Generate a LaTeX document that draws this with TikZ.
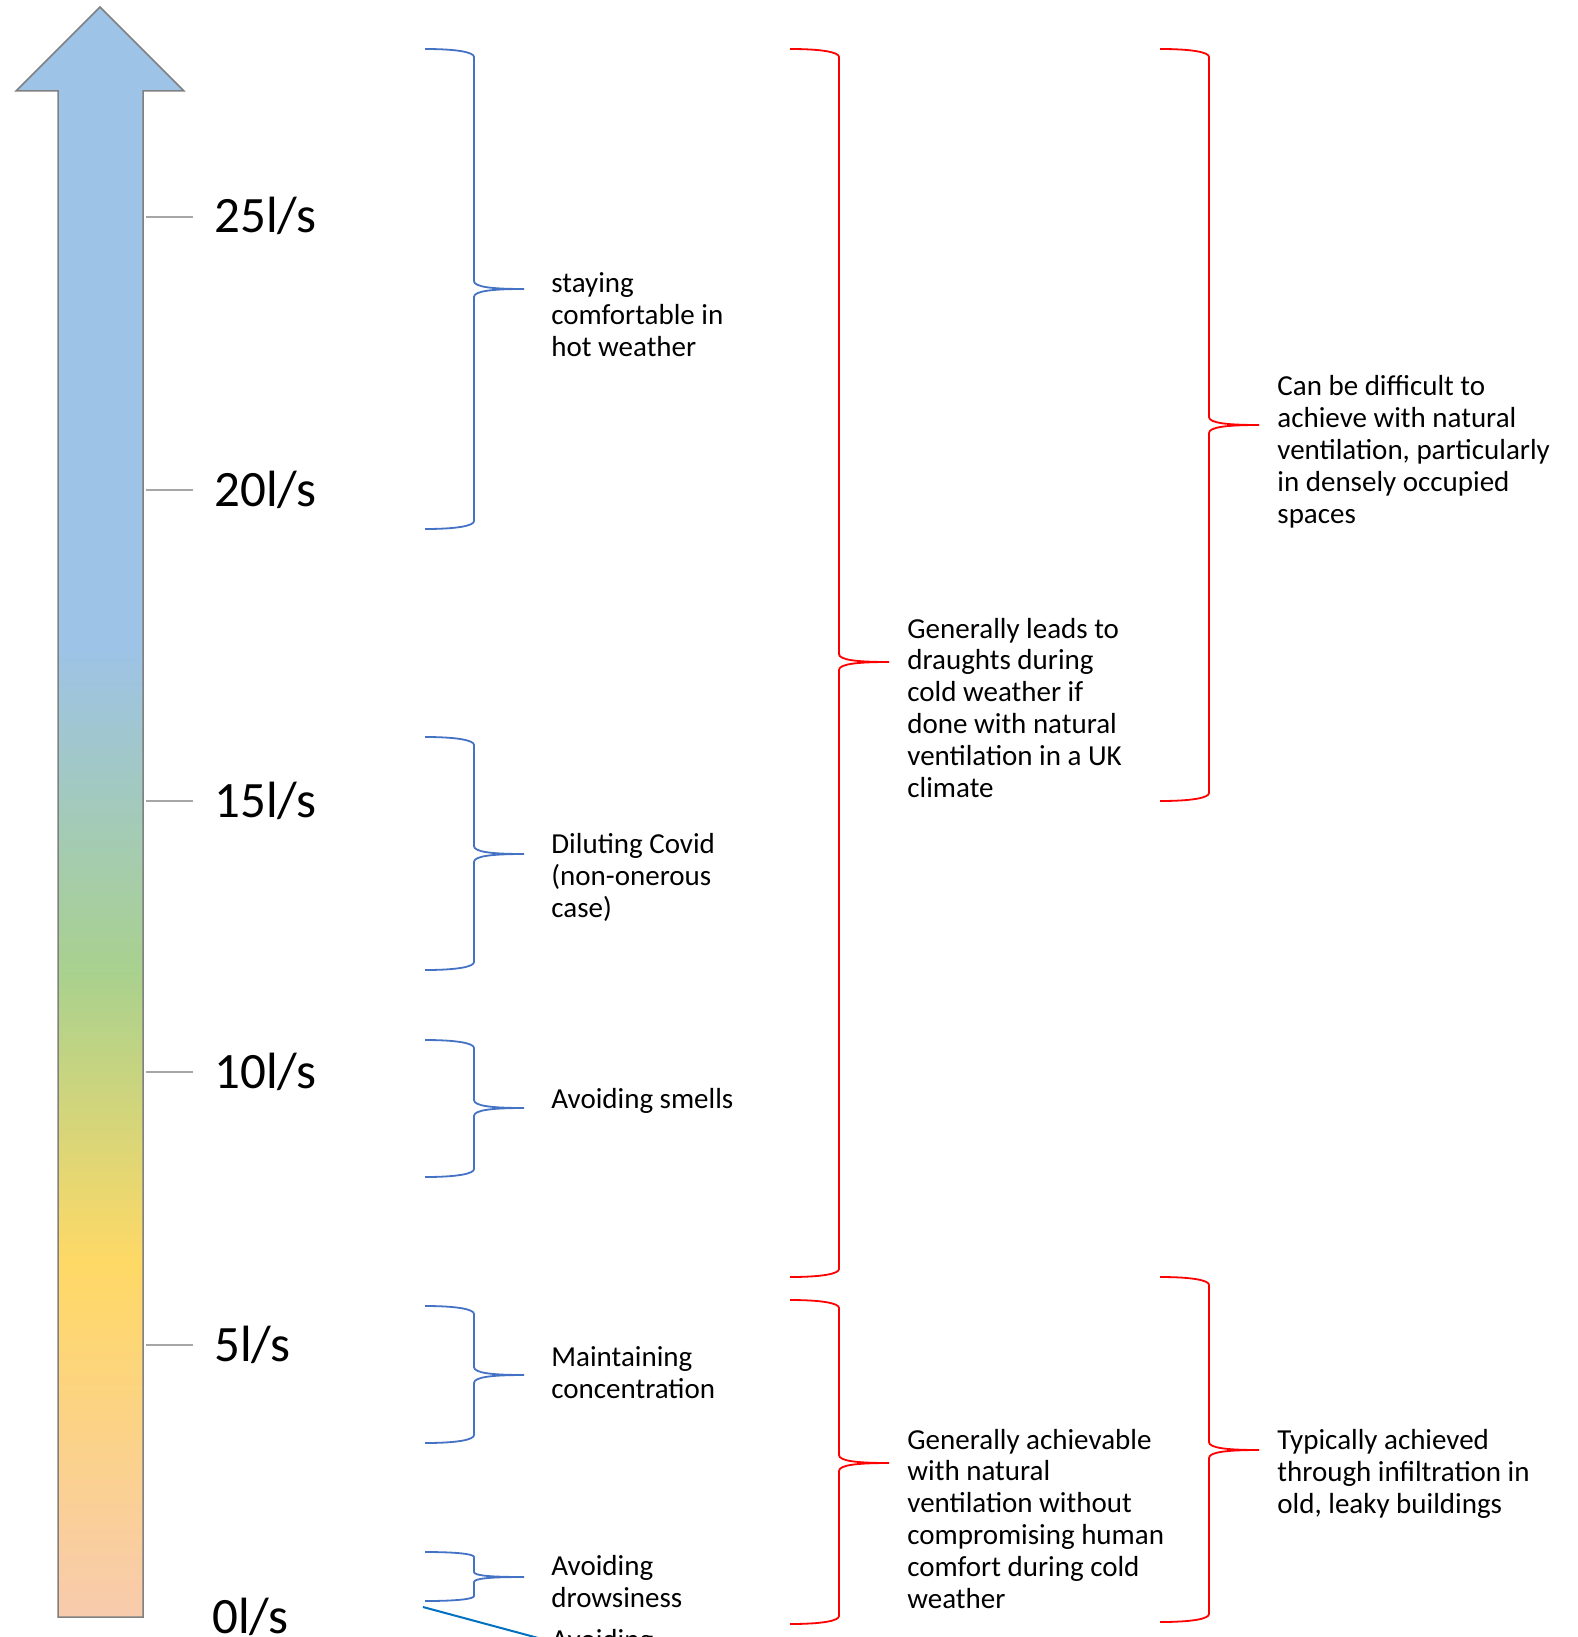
\documentclass[tikz,border=0pt]{standalone}
\usepackage{fontspec}
\setmainfont{Carlito}

\definecolor{arrowblue}{RGB}{157,195,230}
\definecolor{arrowgreen}{RGB}{169,209,142}
\definecolor{arrowyellow}{RGB}{255,217,102}
\definecolor{arrowpeach}{RGB}{248,203,173}
\definecolor{braceblue}{RGB}{68,114,196}
\definecolor{bracered}{RGB}{255,0,0}
\definecolor{lineblue}{RGB}{0,112,192}

% the path box runs from 25bp (bottom) to 75bp (top)
\pgfdeclareverticalshading{ratescale}{100bp}{color(0bp)=(arrowpeach); color(25bp)=(arrowpeach);
  color(36bp)=(arrowyellow); color(45bp)=(arrowgreen); color(55bp)=(arrowblue); color(100bp)=(arrowblue)}

\tikzset{
  rate/.style={anchor=base west,inner sep=0pt,font=\fontsize{25.5}{30}\selectfont},
  % base of a note is the base line of its last line
  note/.style={anchor=base west,inner sep=0pt,align=left,font=\fontsize{14.5}{15.9}\selectfont},
  tickmark/.style={draw=black!35,line width=0.75pt},
}

\begin{document}
\begin{tikzpicture}[x=0.5pt,y=-0.5pt]
  \useasboundingbox (0,0) rectangle (1578,1637);
  \clip (0,0) rectangle (1578,1637);

  % rising arrow with the colour scale
  \shade[shading=ratescale,draw=black!50,line width=0.75pt]
    (100,7) -- (184,91) -- (143,91) -- (143,1617) -- (58,1617) -- (58,91) -- (16,91) -- cycle;

  \foreach \y/\v in {217/25,490/20,801/15,1072/10,1345/5} {
    \draw[tickmark] (146,\y) -- (193,\y);
    \node[rate] (r\v) at (214,\y+16) {\v l/s};
  }
  \node[rate] (r0) at (212,1633) {0l/s};

  % braces: end x / top / middle / bottom / bend / colour
  \foreach \xe/\yt/\ym/\yb/\r/\col in {425/49/289/529/8/braceblue, 425/737/854/970/8/braceblue,
      425/1040/1108/1177/8/braceblue, 425/1306/1375/1443/8/braceblue, 425/1552/1577/1601/5/braceblue,
      790/49/662/1277/8/bracered, 790/1300/1463/1624/8/bracered,
      1160/49/425/801/8/bracered, 1160/1277/1450/1622/8/bracered} {
    \draw[\col,line width=0.9pt] (\xe,\yt) .. controls (\xe+32,\yt) and (\xe+49,\yt+0.4*\r) .. (\xe+49,\yt+\r)
      -- (\xe+49,\ym-\r) .. controls (\xe+49,\ym-0.25*\r) and (\xe+67,\ym) .. (\xe+99,\ym)
      .. controls (\xe+67,\ym) and (\xe+49,\ym+0.25*\r) .. (\xe+49,\ym+\r)
      -- (\xe+49,\yb-\r) .. controls (\xe+49,\yb-0.4*\r) and (\xe+32,\yb) .. (\xe,\yb);
  }

  % what each rate is good for
  \node[note] (hot) at (551,356) {staying\\comfortable in\\hot weather};
  \node[note] (covid) at (551,917) {Diluting Covid\\(non-onerous\\case)};
  \node[note] (smells) at (551,1108) {Avoiding smells};
  \node[note] (focus) at (551,1398) {Maintaining\\concentration};
  \node[note] (drowsy) at (551,1607) {Avoiding\\drowsiness};
  \node[note] (lowest) at (551,1649) {Avoiding};

  % how natural ventilation copes
  \node[note] (draughts) at (907,797) {Generally leads to\\draughts during\\cold weather if\\done with natural\\ventilation in a UK\\climate};
  \node[note] (hard) at (1277,523) {Can be difficult to\\achieve with natural\\ventilation, particularly\\in densely occupied\\spaces};
  \node[note] (easy) at (907,1608) {Generally achievable\\with natural\\ventilation without\\compromising human\\comfort during cold\\weather};
  \node[note] (leaky) at (1277,1513) {Typically achieved\\through infiltration in\\old, leaky buildings};

  \coordinate (drowsy-end) at (423,1607);
  \draw[lineblue,line width=1pt] (drowsy-end) -- (lowest.west);
\end{tikzpicture}
\end{document}
